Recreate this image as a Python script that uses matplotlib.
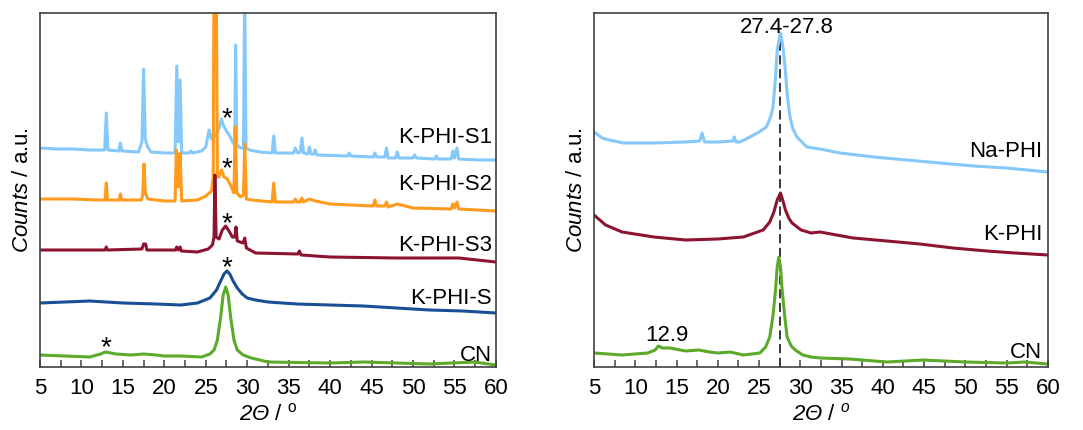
import numpy as np
import matplotlib
matplotlib.use("Agg")
import matplotlib.pyplot as plt
from matplotlib.ticker import MultipleLocator

plt.rcParams["font.family"] = ["Liberation Sans", "DejaVu Sans"]
plt.rcParams["mathtext.fontset"] = "custom"
plt.rcParams["mathtext.rm"] = "Liberation Sans"
plt.rcParams["mathtext.it"] = "Liberation Sans:italic"
plt.rcParams["mathtext.sf"] = "Liberation Sans:italic"

# ---- left panel: (2theta, counts a.u.) ----
s1 = [(5.0, 219), (7, 218), (9, 218), (11, 217), (12.8, 217), (13.0, 254), (13.2, 217), (14.5, 216), (14.7, 224),
      (14.9, 216), (16.9, 215), (17.3, 225), (17.5, 298), (17.7, 228), (18.0, 220), (18.4, 215), (20, 214),
      (21.3, 214), (21.5, 301), (21.7, 225), (21.9, 287), (22.1, 214), (23.0, 214), (23.2, 216), (23.4, 214),
      (24.5, 216), (25.0, 220), (25.4, 237), (25.7, 228), (26.2, 232), (26.6, 239), (26.9, 248), (27.1, 242),
      (27.5, 236), (27.9, 231), (28.3, 224), (28.5, 222), (28.6, 322), (28.75, 222), (29.2, 219), (29.55, 219),
      (29.7, 380), (29.85, 219), (30.3, 217), (31.5, 215), (33.0, 214), (33.2, 231), (33.4, 214), (35.6, 214),
      (35.8, 219), (36.1, 214), (36.4, 215), (36.6, 229), (36.8, 214), (37.3, 213), (37.5, 220), (37.7, 213),
      (38.0, 213), (38.2, 217), (38.4, 212), (42.1, 211), (42.3, 214), (42.5, 211), (45.2, 210), (45.4, 214),
      (45.6, 210), (46.6, 210), (46.8, 219), (47.0, 209), (47.9, 209), (48.1, 215), (48.3, 209), (50.0, 209),
      (50.2, 212), (50.4, 209), (52.6, 208), (52.8, 211), (53.0, 208), (54.6, 208), (54.8, 216), (55.0, 209),
      (55.3, 219), (55.5, 208), (58, 207), (60, 207)]
s2 = [(5, 168), (9, 168), (12, 167), (12.85, 167), (13.0, 184), (13.15, 167), (14.55, 167), (14.7, 173),
      (14.85, 167), (17.2, 167), (17.4, 172), (17.55, 203), (17.7, 175), (18.0, 168), (20, 166), (21.3, 166),
      (21.45, 217), (21.7, 180), (21.9, 214), (22.1, 166), (24, 167), (25, 171), (25.7, 176), (25.9, 190),
      (26.0, 420), (26.25, 420), (26.4, 190), (26.6, 190), (26.9, 197), (27.2, 190), (27.6, 188), (28.1, 180),
      (28.4, 174), (28.55, 240), (28.75, 174), (29.2, 170), (29.55, 172), (29.7, 223), (29.9, 168), (30.5, 167),
      (33.0, 165), (33.2, 184), (33.4, 165), (35.6, 165), (35.8, 168), (36.0, 165), (36.4, 165), (36.6, 169),
      (36.8, 165), (37.5, 168), (38.2, 166), (40, 163), (45.2, 161), (45.4, 167), (45.6, 161), (46.6, 161),
      (46.8, 165), (47.0, 160), (48.1, 163), (50, 159), (54.6, 158), (54.8, 163), (55.0, 159), (55.3, 165),
      (55.5, 158), (60, 156)]
s3 = [(5, 117), (9, 117), (12.2, 117), (12.85, 117), (13.0, 120), (13.15, 117), (17.3, 118), (17.5, 123),
      (17.75, 123), (17.9, 117), (21.35, 117), (21.5, 120), (21.7, 117), (21.9, 120), (22.05, 116), (24, 115),
      (25.3, 118), (25.8, 122), (26.0, 130), (26.1, 192), (26.25, 130), (26.6, 128), (27.0, 137), (27.4, 141),
      (27.8, 136), (28.2, 130), (28.5, 130), (28.65, 140), (28.8, 126), (29.5, 124), (29.7, 129), (29.9, 119),
      (31, 114), (36.1, 113), (36.3, 116), (36.5, 112), (40, 110), (48, 109), (55.5, 109), (60, 105)]
s0 = [(5, 64), (8, 65), (11, 66), (15, 64), (19, 63), (22, 62), (24, 64), (25.5, 69), (26.3, 77), (26.8, 86),
      (27.2, 93), (27.55, 96), (27.9, 93), (28.3, 86), (28.8, 79), (29.4, 73), (30.0, 69), (31, 67), (32.5, 65),
      (36, 63), (40, 62), (44, 61), (48, 59), (52, 57), (56, 56), (60, 54)]
cn_left = [(5, 12), (8, 11), (11, 10), (12.3, 13), (12.9, 15), (14.2, 13), (16, 12), (17.5, 13), (19, 12),
           (20, 11), (22, 11), (24.5, 10), (25.5, 13), (26.0, 17), (26.4, 27), (26.8, 50), (27.1, 72), (27.4, 80),
           (27.7, 72), (28.0, 50), (28.4, 27), (28.8, 17), (29.5, 12), (30.5, 9), (32.5, 5), (40, 4), (44, 5),
           (48, 4), (52, 3), (57.4, 5), (60, 2)]

# ---- right panel ----
na_phi = [(5, 235), (6, 229), (6.8, 227), (8.6, 224), (12.2, 224), (16.1, 225), (17.8, 226), (18.1, 234),
          (18.4, 225), (20, 225), (21.8, 226), (22.0, 230), (22.2, 225), (22.7, 225), (23.9, 230), (25.0, 235),
          (25.9, 240), (26.4, 250), (26.7, 260), (27.0, 290), (27.2, 317), (27.6, 334), (27.9, 320), (28.15, 300),
          (28.45, 270), (28.75, 250), (29.1, 238), (29.6, 230), (30.8, 220), (32.4, 218), (34.8, 214), (38.9, 210),
          (42.9, 207), (46.9, 204), (51, 201), (55, 199), (60, 195)]
k_phi = [(5, 152), (6.4, 142), (8.4, 135), (12.25, 130), (16.1, 127), (20, 128), (23.1, 130), (25.5, 137),
         (26.3, 145), (26.8, 155), (27.2, 167), (27.6, 174), (27.9, 166), (28.2, 157), (28.6, 149), (29.0, 144),
         (30.1, 137), (31.3, 134), (32.4, 135), (36.4, 129), (40.5, 126), (44.5, 123), (48.5, 119), (52.6, 116),
         (56, 114), (60, 112)]
cn_right = [(5, 14), (8.4, 12), (11.5, 14), (12.4, 17), (12.8, 21), (13.3, 19), (14.2, 19), (16.1, 16), (17.7, 17),
            (19, 15), (20, 14), (21.5, 15), (23.1, 12), (25.1, 14), (25.8, 20), (26.3, 30), (26.7, 52), (27.0, 77),
            (27.2, 100), (27.4, 110), (27.6, 100), (27.8, 77), (28.1, 52), (28.4, 30), (28.9, 21), (29.4, 17),
            (30.3, 12), (31.3, 10), (32.4, 9), (36, 8), (40.5, 5), (44.9, 7), (50, 5), (55, 4), (57.2, 5), (60, 3)]

left_names = ["K-PHI-S1", "K-PHI-S2", "K-PHI-S3", "K-PHI-S", "CN"]
left_label_y = [229, 182, 121, 69, 12]
star_pos = [(27.5, 248), (27.5, 198), (27.5, 143), (27.5, 99), (13.0, 19)]
right_names = ["Na-PHI", "K-PHI", "CN"]
right_label_y = [215, 132, 15]

c_lblue = "#85C8FA"
c_orange = "#FF9A1C"
c_dred = "#8C1430"
c_blue = "#1A4F96"
c_green = "#5BAA2A"


def style(ax):
    ax.set_xlim(5, 60)
    ax.set_ylim(0, 354)
    ax.set_yticks([])
    ax.xaxis.set_major_locator(MultipleLocator(5))
    ax.xaxis.set_minor_locator(MultipleLocator(2.5))
    ax.tick_params(axis="x", which="both", direction="in", length=5, width=1.1, color="#404040",
                   labelsize=16, pad=8, top=False)
    for sp in ax.spines.values():
        sp.set_color("#404040")
        sp.set_linewidth(1.2)


def draw(ax, pts, color):
    arr = np.array(pts, dtype=float)
    ax.plot(arr[:, 0], arr[:, 1], color=color, lw=2.2, solid_joinstyle="round")


fig = plt.figure(figsize=(10.83, 4.30), dpi=100)
ax1 = fig.add_axes([0.0369, 0.1465, 0.421, 0.8233])
ax2 = fig.add_axes([0.5485, 0.1465, 0.419, 0.8233])

for pts, col in zip([s1, s2, s3, s0, cn_left], [c_lblue, c_orange, c_dred, c_blue, c_green]):
    draw(ax1, pts, col)
for name, y in zip(left_names, left_label_y):
    ax1.text(59.5, y, name, ha="right", va="center", fontsize=16)
for x, y in star_pos:
    ax1.text(x, y, "*", ha="center", va="center", fontsize=20)

ax2.vlines(27.5, 0, 334, colors="black", linestyles=(0, (6, 3)), lw=1.1, zorder=1)
for pts, col in zip([na_phi, k_phi, cn_right], [c_lblue, c_dred, c_green]):
    draw(ax2, pts, col)
for name, y in zip(right_names, right_label_y):
    ax2.text(59.3, y, name, ha="right", va="center", fontsize=16)
ax2.text(28.4, 339, "27.4-27.8", ha="center", va="center", fontsize=16)
ax2.text(13.85, 32, "12.9", ha="center", va="center", fontsize=16)

for ax in (ax1, ax2):
    style(ax)
    ax.set_ylabel(r"$\it{Counts}$ / a.u.", fontsize=16, labelpad=5)
ax1.set_xlabel(r"$\mathsf{2Θ}$ / $^{\rm o}$", fontsize=16, labelpad=3)
ax2.set_xlabel(r"$\mathsf{2Θ}$ / $^{\it o}$", fontsize=16, labelpad=3)

fig.savefig("out.png", dpi=100)
